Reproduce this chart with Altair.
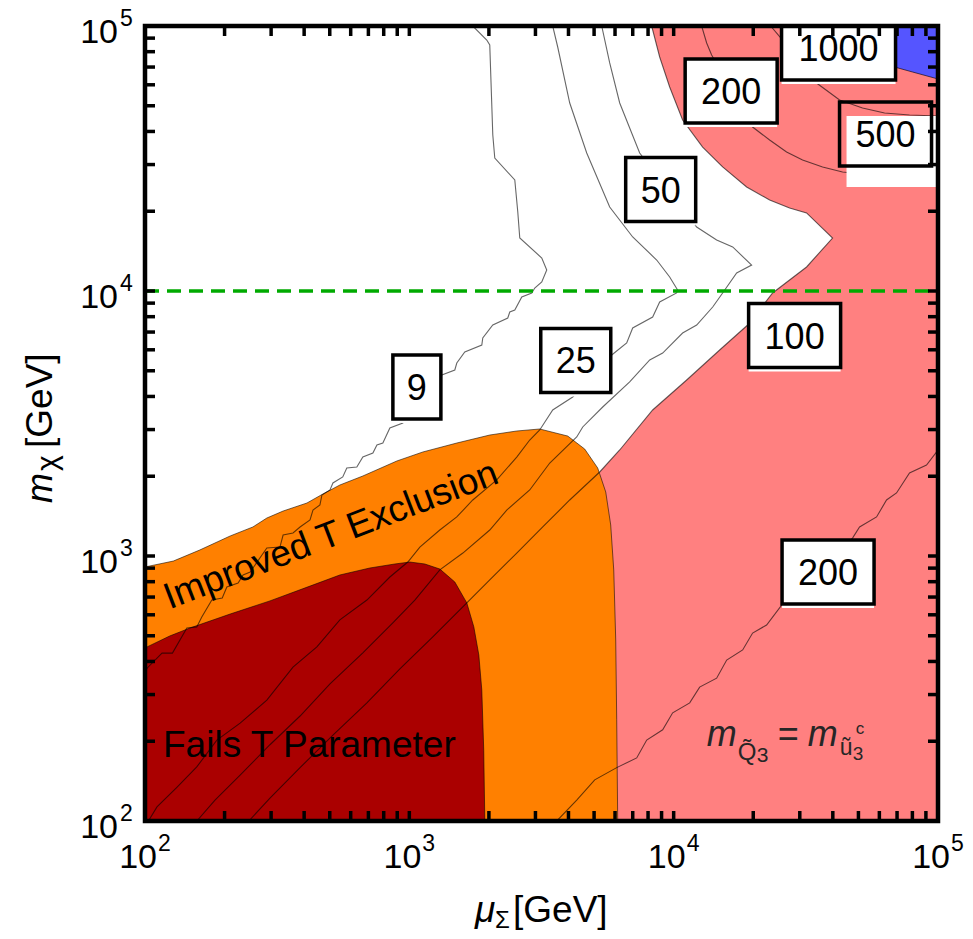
import altair as alt
import pandas as pd

# ---------------------------------------------------------------
# Regions in the (mu_Sigma, m_chi) plane, both in GeV
# ---------------------------------------------------------------
fails_mu = [100, 100, 124, 148, 210, 297, 421, 546, 709, 882, 1004, 1144, 1304, 1486,
            1650, 1754, 1832, 1880, 1912, 1930]
fails_m = [100, 450, 499, 535, 604, 677, 770, 848, 901, 933, 949, 933, 893, 798,
           665, 540, 423, 312, 185, 100]

improved_mu = [100, 100, 128, 161, 210, 256, 289, 333, 410, 471, 546, 667, 897, 1125,
               1512, 2015, 2549, 3114, 3974, 4607, 5160, 5534, 5779, 5933, 6037, 6089, 6142]
improved_m = [100, 909, 957, 1053, 1190, 1287, 1391, 1478, 1585, 1714, 1853, 2004, 2283, 2469,
              2669, 2861, 2963, 3015, 2836, 2533, 2148, 1744, 1309, 886, 482, 241, 100]

blue_mu = [60080, 64000, 68470, 80090, 100000, 100000]
blue_m = [100000, 81200, 70030, 67060, 63100, 100000]

# ---------------------------------------------------------------
# Contour lines
# ---------------------------------------------------------------
c9_mu = [1738, 1963, 2015, 2069, 2105, 2506, 2572, 2617, 3170, 3310, 3170, 2982, 2905, 2663,
         2506, 2399, 2357, 2069, 1896, 1880, 1621, 1512, 1486, 1327, 1068, 945, 844, 794,
         754, 728, 667, 633, 580, 560, 514, 501, 467, 459, 432, 421, 386, 363, 333, 324,
         289, 250, 235, 225, 204, 196, 179, 164, 157, 144, 127, 116, 102, 100]
c9_m = [100000, 88530, 84780, 38780, 31760, 26240, 19870, 15850, 13320, 12000, 10810, 10260,
        9829, 9493, 8478, 8332, 7909, 7441, 6648, 6255, 5886, 5350, 5034, 4819, 4050, 3176,
        3041, 2669, 2623, 2447, 2363, 2167, 2148, 1987, 1886, 1775, 1699, 1558, 1491, 1367,
        1287, 1221, 1200, 1081, 1072, 870, 848, 791, 764, 694, 682, 589, 540, 535, 430, 430,
        378, 365]

c25_mu = [3487, 3642, 4044, 4689, 5728, 6998, 8625, 9658, 10350, 10260, 8853, 8328, 6998,
          6642, 5830, 4151, 3487, 3114, 2854, 2549, 2142, 1738, 1512, 1304, 1096, 987, 844,
          691, 546, 447, 363, 289, 229, 187, 157, 132, 111, 103]
c25_m = [100000, 83320, 51220, 33170, 20750, 15990, 13090, 11290, 10090, 9829, 9089, 7978,
         7252, 6366, 5735, 3981, 3556, 2989, 2740, 2363, 1936, 1627, 1404, 1253, 1081, 949,
         833, 682, 574, 454, 381, 286, 234, 202, 160, 134, 113, 100]

c50_mu = [157, 184, 229, 297, 386, 501, 667, 866, 1049, 1304, 1594, 2015, 2336, 2854, 3398,
          4298, 4529, 5390, 6817, 8118, 9087, 10810, 12220, 14050, 15320, 17310, 19720,
          16720, 14540, 12220, 7437, 6937, 6250, 5728, 5343]
c50_m = [100, 120, 149, 194, 249, 329, 431, 559, 682, 886, 1026, 1253, 1491, 1775, 2243,
         2812, 3068, 3650, 4536, 5491, 5834, 6942, 7441, 8701, 9829, 11690, 12530, 14660,
         15580, 17440, 33170, 39460, 51220, 72520, 100000]

c100_mu = [8256, 8853, 9658, 10810, 12870, 15320, 18880, 23070, 27450, 31830, 39910, 31830,
           23680, 19050, 14930, 11200, 8328, 6250, 5250, 4044, 3197, 2549, 2015, 1650, 1227,
           921, 691, 514, 386, 297, 247]
c100_m = [100000, 76380, 58860, 44190, 34940, 29380, 24690, 22050, 20570, 19700, 15850,
          12320, 9829, 7441, 5990, 4615, 3556, 2512, 2075, 1627, 1287, 1026, 812, 665, 495,
          375, 279, 211, 159, 122, 100]

c200_upper_mu = [12760, 13330, 13920, 19890, 23070, 26740, 30740, 36590, 43540, 60080, 100000]
c200_upper_m = [100000, 86260, 77720, 41570, 37140, 33460, 31210, 29380, 28120, 27160, 26700]

c200_lower_mu = [3612, 4298, 5027, 6089, 7247, 7907, 9087, 9913, 11500, 12540, 14540, 15870,
                 18240, 19890, 22470, 25610, 47500, 50500, 58550, 63880, 69680, 78030,
                 90480, 100000]
c200_lower_m = [100, 120, 143, 159, 173, 202, 221, 256, 279, 320, 346, 405, 442, 512, 549,
                653, 1169, 1287, 1404, 1627, 1729, 2057, 2205, 2512]

c500_mu = [23270, 25830, 34720, 42430, 51820, 62780, 78030, 100000]
c500_m = [100000, 88530, 60940, 52580, 49050, 46960, 46150, 45750]

# Contour labels
label_text = ["9", "25", "50", "100", "200", "1000", "500", "200"]
label_mu = [1068, 4262, 8931, 28680, 16500, 42050, 63320, 38380]
label_m = [4342, 5467, 24150, 6792, 56850, 82600, 39130, 870]

# Horizontal reference mass
reference_m = [10000]

# Axis ticks
decades = [100, 1000, 10000, 100000]
decade_exp = ["2", "3", "4", "5"]
tick_values = [k * 10 ** d for d in (2, 3, 4) for k in range(1, 10) if not (d == 2 and k == 1)]

# ---------------------------------------------------------------
W, H = 793, 795
FONT = "Liberation Sans"
XS = alt.Scale(type="log", domain=[100, 100000], nice=False)
YS = alt.Scale(type="log", domain=[100, 100000], nice=False)


def xenc(field="mu"):
    return alt.X(f"{field}:Q", scale=XS, axis=None)


def yenc(field="m"):
    return alt.Y(f"{field}:Q", scale=YS, axis=None)


def path_df(mu, m):
    return pd.DataFrame({"mu": mu, "m": m, "i": list(range(len(mu)))})


def region(mu, m, fill, stroke_opacity):
    return alt.Chart(path_df(mu, m)).mark_line(
        fill=fill, stroke="black", strokeWidth=1, strokeOpacity=stroke_opacity,
        interpolate="linear-closed", clip=True
    ).encode(x=xenc(), y=yenc(), order="i:Q")


layers = []

# pink region: everything beyond the 100 contour
pink_mu = c100_mu[:19] + [6142, 100000, 100000]
pink_m = c100_m[:19] + [100, 100, 100000]
layers.append(region(pink_mu, pink_m, "#FF8080", 0))
layers.append(region(improved_mu, improved_m, "#FF8000", 0.55))
layers.append(region(fails_mu, fails_m, "#AA0000", 0.55))
layers.append(region(blue_mu, blue_m, "#5555FF", 0.6))

contours = pd.concat([
    path_df(c9_mu, c9_m).assign(line="9"),
    path_df(c25_mu, c25_m).assign(line="25"),
    path_df(c50_mu, c50_m).assign(line="50"),
    path_df(c100_mu, c100_m).assign(line="100"),
    path_df(c200_upper_mu, c200_upper_m).assign(line="200u"),
    path_df(c200_lower_mu, c200_lower_m).assign(line="200l"),
    path_df(c500_mu, c500_m).assign(line="500"),
], ignore_index=True)

layers.append(
    alt.Chart(contours).mark_line(color="black", strokeWidth=1.1, opacity=0.6, clip=True)
    .encode(x=xenc(), y=yenc(), detail="line:N", order="i:Q")
)

layers.append(
    alt.Chart(pd.DataFrame({"m": reference_m})).mark_rule(
        color="#00AA00", strokeWidth=3.5, strokeDash=[14, 8]
    ).encode(y=yenc(), x=alt.value(0), x2=alt.value(W))
)

# ---- contour label boxes ----
BOX_H = 64
BG_STYLE = {"500": (7, 14, 71)}  # (shift right, top offset, height) of the white patch


def rect_path(w, left, top, right, bottom):
    r = w / 2
    return (f"M{left / r:.4f},{top / r:.4f}H{right / r:.4f}"
            f"V{bottom / r:.4f}H{left / r:.4f}Z")


rows = []
for t, mu, m in zip(label_text, label_mu, label_m):
    w = 22 * len(t) + 26
    sx, t0, hh = BG_STYLE.get(t, (0, 1, 67))
    rows.append({
        "text": t, "mu": mu, "m": m, "size": w * w,
        "border": rect_path(w, -w / 2, -BOX_H / 2, w / 2, BOX_H / 2),
        "bg": rect_path(w, -w / 2 + sx, -BOX_H / 2 + t0, w / 2 + sx, -BOX_H / 2 + t0 + hh),
    })
labels = pd.DataFrame(rows)

layers.append(
    alt.Chart(labels).mark_point(filled=True, fill="white", color="white", opacity=1,
                                 strokeWidth=0, clip=True)
    .encode(x=xenc(), y=yenc(), shape=alt.Shape("bg:N", scale=None),
            size=alt.Size("size:Q", scale=None))
)
layers.append(
    alt.Chart(labels).mark_point(filled=False, stroke="black", color="black", opacity=1,
                                 strokeWidth=3.5, clip=True)
    .encode(x=xenc(), y=yenc(), shape=alt.Shape("border:N", scale=None),
            size=alt.Size("size:Q", scale=None))
)
layers.append(
    alt.Chart(labels).mark_text(fontSize=36, font=FONT, color="black", baseline="alphabetic",
                                dy=13)
    .encode(x=xenc(), y=yenc(), text="text:N")
)

# ---- region annotations ----
layers.append(
    alt.Chart(pd.DataFrame({"mu": [117], "m": [174], "t": ["Fails T Parameter"]}))
    .mark_text(align="left", baseline="alphabetic", fontSize=37, font=FONT, color="black")
    .encode(x=xenc(), y=yenc(), text="t:N")
)
layers.append(
    alt.Chart(pd.DataFrame({"mu": [523], "m": [1091], "t": ["Improved T Exclusion"]}))
    .mark_text(align="center", baseline="alphabetic", fontSize=37, font=FONT, color="black",
               angle=339)
    .encode(x=xenc(), y=yenc(), text="t:N")
)

# m_{Q3} = m_{u3^c}, built piece by piece around one anchor
formula_anchor = pd.DataFrame({"mu": [13330], "m": [192]})
formula_parts = [
    ("m", 0, 0, 36, "italic"),
    ("Q\u0303", 31, 14, 24, "normal"),
    ("3", 50, 16, 21, "normal"),
    ("=", 71, 0, 36, "normal"),
    ("m", 101, 0, 36, "italic"),
    ("\u0169", 133, 9, 23, "normal"),
    ("3", 146, 14, 19, "normal"),
    ("c", 149, -12, 17, "normal"),
]
for txt, dx, dy, fs, style in formula_parts:
    layers.append(
        alt.Chart(formula_anchor).mark_text(
            align="left", baseline="alphabetic", font=FONT, fontSize=fs, fontStyle=style,
            color="#262626", dx=dx, dy=dy
        ).encode(x=xenc(), y=yenc(), text=alt.value(txt))
    )

# ---- inward ticks on all four sides ----
ticks = pd.DataFrame({"v": tick_values})
TL = 10
layers += [
    alt.Chart(ticks).mark_rule(color="black", strokeWidth=3.5)
    .encode(x=xenc("v"), y=alt.value(H), y2=alt.value(H - TL)),
    alt.Chart(ticks).mark_rule(color="black", strokeWidth=3.5)
    .encode(x=xenc("v"), y=alt.value(0), y2=alt.value(TL)),
    alt.Chart(ticks).mark_rule(color="black", strokeWidth=3.5)
    .encode(y=yenc("v"), x=alt.value(0), x2=alt.value(TL)),
    alt.Chart(ticks).mark_rule(color="black", strokeWidth=3.5)
    .encode(y=yenc("v"), x=alt.value(W), x2=alt.value(W - TL)),
]

# frame
layers.append(
    alt.Chart(pd.DataFrame({"a": [0]})).mark_rect(fillOpacity=0, stroke="black",
                                                  strokeWidth=4.5)
    .encode(x=alt.value(0), x2=alt.value(W), y=alt.value(0), y2=alt.value(H))
)

# ---- tick labels 10^n ----
dec = pd.DataFrame({"v": decades, "base": ["10"] * 4, "exp": decade_exp})
layers += [
    alt.Chart(dec).mark_text(align="right", baseline="alphabetic", fontSize=34, font=FONT,
                             color="black", dx=12)
    .encode(x=xenc("v"), y=alt.value(H + 47), text="base:N"),
    alt.Chart(dec).mark_text(align="left", baseline="alphabetic", fontSize=23, font=FONT,
                             color="black", dx=13)
    .encode(x=xenc("v"), y=alt.value(H + 30), text="exp:N"),
    alt.Chart(dec).mark_text(align="right", baseline="alphabetic", fontSize=34, font=FONT,
                             color="black", dy=17)
    .encode(y=yenc("v"), x=alt.value(-27), text="base:N"),
    alt.Chart(dec).mark_text(align="left", baseline="alphabetic", fontSize=23, font=FONT,
                             color="black", dy=0)
    .encode(y=yenc("v"), x=alt.value(-25), text="exp:N"),
]

# ---- axis titles ----
one = pd.DataFrame({"a": [0]})


def title_piece(txt, px, py, fs, style="normal", angle=0):
    kw = dict(align="left", baseline="alphabetic", font=FONT, fontSize=fs,
              fontStyle=style, color="black")
    if angle:
        kw["angle"] = angle
    return alt.Chart(one).mark_text(**kw).encode(
        x=alt.value(px), y=alt.value(py), text=alt.value(txt))


layers += [
    title_piece("\u03bc", 330, 896, 37, "italic"),
    title_piece("\u03a3", 350, 902, 24),
    title_piece("[GeV]", 368, 896, 37),
    title_piece("m", -93, 477, 36, "italic", 270),
    title_piece("\u03c7", -88, 445, 30, "normal", 270),
    title_piece("[GeV]", -93, 422, 37, "normal", 270),
]

chart = alt.layer(*layers).properties(
    width=W, height=H,
    padding={"left": 145, "top": 26, "right": 35, "bottom": 118},
    autosize=alt.AutoSizeParams(type="none"),
).configure(font=FONT).configure_view(strokeWidth=0)

chart.save("out.html", embed_options={"renderer": "svg", "actions": False})
